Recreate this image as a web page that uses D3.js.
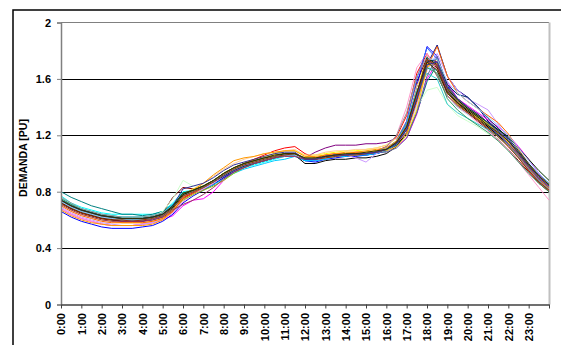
<!DOCTYPE html>
<html>
<head>
<meta charset="utf-8">
<script src="https://cdn.jsdelivr.net/npm/d3@7"></script>
<style>
  html, body { margin: 0; padding: 0; background: #fff; }
  svg { display: block; font-family: "Liberation Sans", Arial, sans-serif; }
</style>
</head>
<body>
<svg id="chart" width="561" height="345"></svg>
<script>
// ---- data ----
const hours = [0,0.5,1,1.5,2,2.5,3,3.5,4,4.5,5,5.5,6,6.5,7,7.5,8,8.5,9,9.5,10,10.5,11,11.5,12,12.5,13,13.5,14,14.5,15,15.5,16,16.5,17,17.5,18,18.5,19,19.5,20,20.5,21,21.5,22,22.5,23,23.5,24];
const tickLabels = ["0:00","1:00","2:00","3:00","4:00","5:00","6:00","7:00","8:00","9:00","10:00","11:00","12:00","13:00","14:00","15:00","16:00","17:00","18:00","19:00","20:00","21:00","22:00","23:00"];
const yTicks = [0, 0.4, 0.8, 1.2, 1.6, 2];
const yTitle = "DEMANDA [PU]";

const d01 = [.72,.68,.65,.63,.61,.60,.59,.59,.59,.60,.62,.66, .75,.79,.82,.86,.91,.95,.98,1.00,1.02,1.04,1.06,1.06, 1.02,1.02,1.04,1.05,1.05,1.06,1.06,1.07,1.09,1.13,1.22,1.45, 1.70,1.84,1.62,1.52,1.47,1.40,1.30,1.24,1.17,1.08,.99,.91,.85];
const d02 = [.68,.64,.61,.59,.57,.56,.56,.56,.57,.58,.60,.63, .70,.74,.75,.80,.88,.94,.98,1.00,1.02,1.04,1.06,1.06, 1.03,1.02,1.04,1.05,1.06,1.06,1.07,1.08,1.09,1.12,1.18,1.35, 1.60,1.72,1.58,1.46,1.41,1.36,1.31,1.26,1.20,1.12,1.03,.93,.84];
const d03 = [.74,.70,.67,.65,.63,.62,.61,.61,.61,.62,.64,.70, .79,.81,.84,.88,.93,.97,1.00,1.03,1.05,1.07,1.09,1.09, 1.06,1.06,1.07,1.08,1.09,1.09,1.10,1.11,1.13,1.18,1.29,1.54, 1.74,1.68,1.50,1.42,1.37,1.32,1.27,1.21,1.14,1.05,.96,.88,.82];
const d04 = [.77,.72,.69,.67,.65,.64,.64,.64,.64,.64,.66,.72, .80,.81,.82,.85,.90,.94,.97,.99,1.01,1.03,1.05,1.06, 1.02,1.03,1.04,1.05,1.06,1.06,1.07,1.08,1.10,1.14,1.24,1.44, 1.68,1.66,1.48,1.40,1.35,1.31,1.25,1.20,1.13,1.05,.96,.88,.82];
const d05 = [.73,.69,.66,.64,.62,.61,.60,.60,.60,.61,.63,.68, .76,.79,.83,.87,.92,.96,.99,1.01,1.03,1.05,1.06,1.06, 1.04,1.08,1.11,1.13,1.13,1.13,1.14,1.14,1.15,1.18,1.27,1.50, 1.74,1.72,1.54,1.46,1.39,1.34,1.28,1.22,1.15,1.06,.97,.89,.83];
const d06 = [.72,.68,.65,.63,.61,.60,.59,.59,.59,.61,.65,.76, .83,.82,.82,.85,.90,.95,.98,1.00,1.02,1.04,1.06,1.06, 1.03,1.03,1.05,1.06,1.06,1.07,1.07,1.08,1.10,1.16,1.30,1.58, 1.75,1.62,1.48,1.41,1.36,1.30,1.24,1.17,1.10,1.02,.94,.86,.80];
const d07 = [.80,.76,.73,.70,.68,.66,.64,.64,.63,.64,.66,.71, .78,.80,.82,.86,.91,.95,.98,1.00,1.02,1.04,1.06,1.06, 1.03,1.03,1.05,1.05,1.06,1.06,1.07,1.08,1.10,1.13,1.20,1.36, 1.58,1.70,1.52,1.43,1.37,1.32,1.26,1.21,1.14,1.06,.97,.89,.83];
const d08 = [.66,.62,.59,.57,.55,.54,.54,.54,.55,.56,.59,.64, .72,.77,.81,.85,.90,.94,.97,1.00,1.02,1.04,1.06,1.06, 1.02,1.01,1.03,1.04,1.05,1.05,1.06,1.07,1.09,1.15,1.28,1.55, 1.83,1.76,1.55,1.46,1.40,1.33,1.27,1.21,1.14,1.05,.96,.88,.82];
const d09 = [.75,.71,.68,.66,.64,.63,.62,.62,.62,.63,.65,.71, .79,.80,.82,.85,.89,.93,.96,.98,1.00,1.02,1.03,1.05, 1.02,1.02,1.03,1.05,1.05,1.06,1.06,1.07,1.09,1.14,1.24,1.46, 1.70,1.70,1.52,1.44,1.38,1.33,1.27,1.21,1.14,1.05,.96,.87,.81];
const d10 = [.74,.70,.66,.64,.62,.61,.60,.60,.60,.61,.63,.68, .76,.79,.82,.86,.91,.96,1.00,1.03,1.06,1.09,1.11,1.12, 1.07,1.04,1.06,1.07,1.07,1.08,1.08,1.09,1.12,1.19,1.34,1.64, 1.78,1.66,1.48,1.41,1.36,1.31,1.25,1.19,1.12,1.04,.95,.87,.81];
const d11 = [.74,.70,.67,.65,.63,.62,.61,.61,.61,.62,.66,.75, .88,.84,.84,.87,.92,.96,.99,1.01,1.03,1.05,1.07,1.07, 1.03,1.03,1.05,1.06,1.06,1.07,1.07,1.08,1.10,1.14,1.22,1.40, 1.52,1.54,1.42,1.34,1.30,1.26,1.21,1.18,1.12,1.04,.96,.88,.82];
const d12 = [.73,.69,.66,.64,.62,.61,.61,.60,.61,.62,.64,.69, .78,.81,.84,.88,.93,.97,1.00,1.02,1.04,1.06,1.07,1.07, 1.04,1.03,1.05,1.06,1.07,1.07,1.08,1.09,1.10,1.15,1.25,1.49, 1.71,1.69,1.51,1.43,1.38,1.33,1.28,1.22,1.15,1.06,.97,.89,.83];
const d13 = [.72,.68,.65,.63,.61,.60,.60,.60,.60,.61,.63,.69, .78,.80,.83,.87,.92,.96,.99,1.01,1.03,1.05,1.06,1.06, 1.00,1.00,1.02,1.03,1.03,1.04,1.04,1.05,1.07,1.12,1.22,1.45, 1.73,1.68,1.51,1.43,1.37,1.32,1.26,1.20,1.13,1.05,.96,.88,.82];
const d14 = [.68,.64,.61,.59,.57,.56,.56,.56,.57,.58,.60,.65, .73,.78,.82,.86,.91,.95,.98,1.00,1.02,1.04,1.06,1.06, 1.03,1.03,1.04,1.05,1.06,1.06,1.07,1.08,1.11,1.20,1.40,1.68, 1.78,1.66,1.48,1.40,1.35,1.29,1.23,1.17,1.10,1.01,.92,.83,.74];
const d15 = [.69,.65,.62,.60,.58,.57,.56,.56,.57,.58,.60,.65, .74,.78,.82,.86,.91,.95,.98,1.00,1.02,1.04,1.06,1.06, 1.03,1.03,1.05,1.06,1.06,1.04,1.01,1.07,1.10,1.14,1.22,1.42, 1.66,1.78,1.62,1.52,1.46,1.42,1.38,1.28,1.18,1.08,.98,.89,.82];
const d16 = [.74,.70,.67,.65,.63,.62,.61,.61,.61,.62,.64,.69, .78,.82,.86,.91,.96,1.00,1.03,1.05,1.07,1.08,1.09,1.10, 1.06,1.06,1.08,1.09,1.09,1.10,1.10,1.11,1.13,1.18,1.30,1.55, 1.70,1.70,1.53,1.45,1.39,1.34,1.28,1.22,1.15,1.07,.98,.90,.84];
const d17 = [.73,.69,.66,.64,.62,.61,.60,.60,.60,.61,.63,.68, .77,.80,.83,.87,.92,.96,.99,1.01,1.03,1.05,1.07,1.07, 1.03,1.03,1.05,1.06,1.06,1.07,1.07,1.08,1.10,1.16,1.30,1.60, 1.82,1.74,1.54,1.45,1.39,1.33,1.27,1.21,1.14,1.05,.96,.88,.82];
const d18 = [.75,.71,.68,.66,.64,.63,.62,.62,.62,.63,.65,.70, .79,.81,.83,.87,.92,.96,.99,1.01,1.03,1.05,1.06,1.06, 1.03,1.03,1.04,1.05,1.06,1.06,1.07,1.08,1.11,1.16,1.28,1.52, 1.64,1.60,1.42,1.36,1.32,1.28,1.24,1.19,1.13,1.05,.96,.88,.82];
const d19 = [.73,.69,.66,.64,.62,.61,.60,.60,.60,.61,.63,.67, .74,.78,.81,.84,.88,.93,.97,1.00,1.02,1.04,1.06,1.06, 1.03,1.03,1.05,1.06,1.06,1.07,1.07,1.08,1.10,1.15,1.26,1.48, 1.72,1.71,1.53,1.45,1.39,1.34,1.28,1.22,1.16,1.08,.99,.91,.85];
const d20 = [.71,.67,.64,.62,.60,.59,.58,.58,.58,.59,.61,.67, .78,.82,.84,.88,.93,.97,1.00,1.02,1.04,1.06,1.07,1.07, 1.04,1.04,1.05,1.06,1.07,1.07,1.08,1.09,1.09,1.12,1.20,1.38, 1.68,1.74,1.54,1.44,1.38,1.32,1.27,1.22,1.15,1.06,.97,.89,.83];
const d21 = [.67,.63,.60,.58,.57,.56,.56,.56,.56,.57,.60,.66, .76,.81,.86,.92,.97,1.02,1.04,1.05,1.07,1.08,1.09,1.09, 1.05,1.05,1.06,1.07,1.08,1.08,1.09,1.10,1.11,1.16,1.26,1.49, 1.71,1.71,1.54,1.46,1.40,1.35,1.29,1.23,1.16,1.07,.98,.89,.82];
const d22 = [.70,.66,.63,.61,.59,.58,.58,.58,.58,.59,.61,.66, .75,.79,.83,.87,.92,.96,.99,1.01,1.03,1.05,1.07,1.07, 1.03,1.03,1.05,1.06,1.06,1.07,1.07,1.08,1.10,1.14,1.22,1.44, 1.68,1.83,1.62,1.50,1.44,1.39,1.34,1.29,1.21,1.10,1.00,.91,.84];
const d23 = [.74,.70,.67,.65,.63,.62,.61,.61,.61,.62,.64,.69, .78,.81,.84,.88,.92,.96,.99,1.01,1.03,1.05,1.06,1.06, 1.03,1.03,1.05,1.06,1.06,1.07,1.07,1.08,1.08,1.11,1.18,1.36, 1.62,1.76,1.56,1.46,1.40,1.35,1.29,1.23,1.16,1.07,.98,.90,.84];
const d24 = [.76,.72,.68,.66,.64,.63,.62,.62,.62,.63,.65,.70, .79,.81,.83,.87,.92,.96,.99,1.01,1.03,1.04,1.06,1.06, 1.03,1.03,1.04,1.05,1.06,1.06,1.07,1.08,1.12,1.20,1.36,1.62, 1.76,1.62,1.48,1.41,1.36,1.31,1.25,1.19,1.13,1.05,.96,.88,.82];
const d25 = [.73,.69,.66,.64,.62,.61,.60,.60,.60,.61,.63,.68, .77,.80,.83,.87,.91,.95,.98,1.00,1.02,1.04,1.06,1.06, 1.03,1.03,1.05,1.06,1.06,1.07,1.07,1.08,1.10,1.14,1.24,1.46, 1.72,1.74,1.56,1.49,1.47,1.40,1.32,1.25,1.18,1.09,1.00,.92,.86];
const d26 = [.75,.71,.67,.65,.63,.62,.61,.61,.61,.62,.64,.70, .79,.81,.84,.87,.92,.96,.99,1.01,1.03,1.05,1.07,1.07, 1.03,1.03,1.05,1.06,1.06,1.07,1.07,1.08,1.10,1.15,1.25,1.47, 1.68,1.64,1.46,1.38,1.32,1.27,1.22,1.16,1.09,1.01,.93,.86,.80];
const d27 = [.74,.70,.67,.65,.63,.62,.61,.61,.61,.62,.64,.69, .78,.81,.84,.88,.93,.97,1.00,1.02,1.04,1.05,1.07,1.07, 1.03,1.03,1.05,1.06,1.06,1.07,1.07,1.08,1.10,1.15,1.25,1.48, 1.75,1.70,1.53,1.45,1.39,1.34,1.29,1.24,1.19,1.11,1.03,.95,.88];
const d28 = [.73,.69,.66,.64,.62,.61,.60,.60,.60,.61,.63,.68, .77,.80,.83,.87,.92,.96,.99,1.01,1.03,1.05,1.06,1.06, 1.03,1.03,1.05,1.06,1.06,1.07,1.07,1.08,1.10,1.15,1.25,1.48, 1.74,1.74,1.58,1.50,1.44,1.39,1.33,1.27,1.20,1.11,1.02,.93,.86];
const d29 = [.72,.68,.65,.63,.61,.60,.60,.59,.60,.61,.63,.68, .77,.80,.83,.87,.92,.96,.99,1.01,1.03,1.05,1.06,1.07, 1.03,1.03,1.04,1.05,1.06,1.06,1.07,1.08,1.10,1.15,1.26,1.50, 1.74,1.69,1.50,1.42,1.36,1.31,1.25,1.19,1.12,1.04,.95,.87,.81];
const d30 = [.71,.67,.64,.62,.60,.59,.59,.59,.59,.60,.62,.67, .71,.74,.78,.83,.89,.94,.97,1.00,1.02,1.04,1.05,1.05, 1.03,1.03,1.05,1.06,1.06,1.07,1.07,1.08,1.10,1.15,1.25,1.48, 1.72,1.70,1.52,1.44,1.38,1.33,1.27,1.21,1.14,1.06,.97,.89,.83];
const d31 = [.74,.70,.67,.65,.63,.62,.61,.61,.61,.62,.64,.70, .82,.84,.86,.90,.95,.99,1.01,1.03,1.05,1.07,1.08,1.08, 1.03,1.03,1.05,1.06,1.06,1.07,1.07,1.08,1.10,1.14,1.24,1.46, 1.70,1.72,1.54,1.46,1.40,1.35,1.29,1.23,1.16,1.07,.98,.90,.84];
const d32 = [.74,.70,.67,.65,.63,.62,.61,.61,.61,.62,.64,.70, .79,.81,.84,.88,.93,.97,1.00,1.02,1.04,1.06,1.07,1.07, 1.04,1.04,1.05,1.06,1.07,1.07,1.08,1.09,1.10,1.15,1.26,1.50, 1.72,1.66,1.50,1.43,1.38,1.33,1.27,1.22,1.16,1.08,.99,.91,.85];

const seriesValues = [d01,d02,d03,d04,d05,d06,d07,d08,d09,d10,d11,d12,d13,d14,d15,d16,d17,d18,d19,d20,d21,d22,d23,d24,d25,d26,d27,d28,d29,d30,d31,d32];
const seriesColors = ["#000080","#FF00FF","#FFFF00","#00FFFF","#800080","#800000","#008080","#0000FF",
  "#00CCFF","#FF0000","#CCFFCC","#FFFF99","#000000","#FF99CC","#CC99FF","#FFCC99",
  "#3366FF","#33CCCC","#99CC00","#FFCC00","#FF9900","#FF6600","#666699","#969696",
  "#003366","#339966","#003300","#99CCFF","#993300","#993366","#333399","#333300"];

// ---- drawing ----
const svg = d3.select("#chart");
const plot = { left: 61, right: 549, top: 22.5, bottom: 304.5 };

const x = d3.scaleLinear().domain([0, 24]).range([plot.left, plot.right]);
const y = d3.scaleLinear().domain([0, 2]).range([plot.bottom, plot.top]);

// outer chart frame
svg.append("rect").attr("x", 13).attr("y", 10).attr("width", 600).attr("height", 400)
  .attr("fill", "none").attr("stroke", "#000").attr("stroke-width", 1.5);

// gridlines
svg.append("g").selectAll("line").data(yTicks.filter(v => v > 0 && v < 2)).join("line")
  .attr("x1", plot.left).attr("x2", plot.right)
  .attr("y1", d => Math.round(y(d)) + 0.5).attr("y2", d => Math.round(y(d)) + 0.5)
  .attr("stroke", "#000").attr("stroke-width", 1);

// plot area top & right border
svg.append("line").attr("x1", plot.left).attr("x2", plot.right)
  .attr("y1", y(2)).attr("y2", y(2)).attr("stroke", "#808080").attr("stroke-width", 1);
svg.append("line").attr("x1", plot.right + 0.5).attr("x2", plot.right + 0.5)
  .attr("y1", y(2)).attr("y2", plot.bottom).attr("stroke", "#C0C0C0").attr("stroke-width", 2);

// series lines
const line = d3.line().x((d, i) => x(hours[i])).y(d => y(d));
svg.append("g").selectAll("path").data(seriesValues).join("path")
  .attr("d", d => line(d))
  .attr("fill", "none")
  .attr("stroke", (d, i) => seriesColors[i])
  .attr("stroke-width", 1)
  .attr("stroke-linejoin", "round");

// y axis
const yAxis = d3.axisLeft(y).tickValues(yTicks).tickSize(4).tickPadding(6)
  .tickFormat(d => d3.format("~g")(d));
const gy = svg.append("g").attr("transform", `translate(${plot.left},0)`).call(yAxis);
gy.select(".domain").attr("stroke", "#808080").attr("stroke-width", 1.5);
gy.selectAll(".tick line").attr("stroke", "#808080");
gy.selectAll(".tick text").attr("font-size", 11).attr("font-weight", "bold")
  .attr("fill", "#000").attr("font-family", "'Liberation Sans', Arial, sans-serif");

// x axis
const xTickVals = d3.range(0, 25);
const xAxis = d3.axisBottom(x).tickValues(xTickVals).tickSize(4).tickSizeOuter(0)
  .tickFormat(d => d < tickLabels.length ? tickLabels[d] : "");
const gx = svg.append("g").attr("transform", `translate(0,${plot.bottom})`).call(xAxis);
gx.select(".domain").attr("stroke", "#404040").attr("stroke-width", 1.5);
gx.selectAll(".tick line").attr("stroke", "#404040");
gx.selectAll(".tick text")
  .attr("font-size", 11).attr("font-weight", "bold").attr("fill", "#000")
  .attr("font-family", "'Liberation Sans', Arial, sans-serif")
  .attr("text-anchor", "end")
  .attr("transform", "rotate(-90)")
  .attr("x", -8.5).attr("y", 0).attr("dy", "0.36em");

// y axis title
svg.append("text")
  .attr("transform", "translate(27,158) rotate(-90)")
  .attr("text-anchor", "middle")
  .attr("font-size", 10.5).attr("font-weight", "bold").attr("fill", "#000")
  .text(yTitle);
</script>
</body>
</html>
